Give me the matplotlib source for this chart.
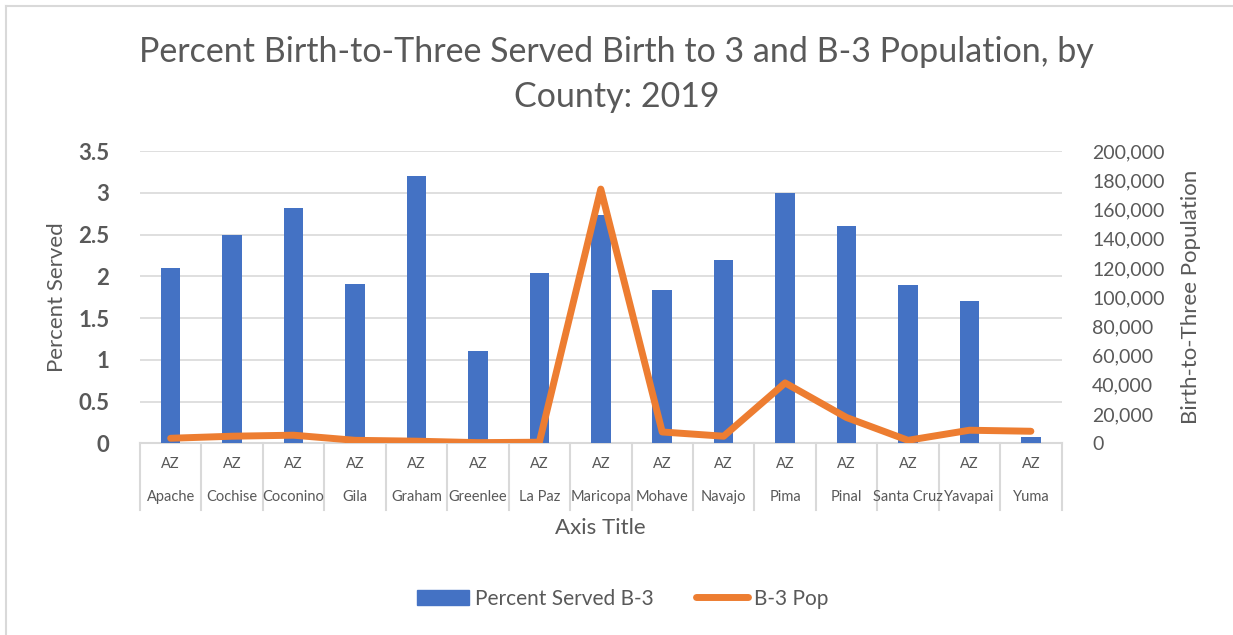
import matplotlib.pyplot as plt
from matplotlib.lines import Line2D
from matplotlib.ticker import FuncFormatter

# county data, 2019
counties = ["Apache", "Cochise", "Coconino", "Gila", "Graham", "Greenlee", "La Paz",
            "Maricopa", "Mohave", "Navajo", "Pima", "Pinal", "Santa Cruz", "Yavapai", "Yuma"]
state = ["AZ"] * len(counties)
pct_served = [2.10, 2.50, 2.82, 1.91, 3.20, 1.10, 2.04, 2.74, 1.84, 2.20, 3.00, 2.60, 1.90, 1.70, 0.08]
b3_pop = [3400, 4800, 5500, 2000, 1400, 400, 700, 174000, 7700, 4800, 41300, 17600, 2000, 8900, 8200]

plt.rcParams['font.family'] = ['Lato', 'DejaVu Sans']
blue = "#4472C4"
orange = "#ED7D31"
grey_txt = "#595959"
grid_col = "#D9D9D9"

fig = plt.figure(figsize=(12.33, 6.35), dpi=100)
ax = fig.add_axes([0.1135, 0.302, 0.7475, 0.46])
x = list(range(len(counties)))

ax.bar(x, pct_served, width=0.32, color=blue, zorder=2)
ax.set_ylim(0, 3.5)
ax.set_yticks([0, 0.5, 1, 1.5, 2, 2.5, 3, 3.5])
ax.set_yticklabels(["0", "0.5", "1", "1.5", "2", "2.5", "3", "3.5"])
ax.set_xlim(-0.5, len(counties) - 0.5)
ax.yaxis.grid(True, color=grid_col, linewidth=1.2, zorder=0)
ax.set_axisbelow(True)
for s in ax.spines.values():
    s.set_visible(False)
ax.tick_params(axis='y', length=0, labelsize=16, labelcolor=grey_txt, pad=22)
for t in ax.get_yticklabels():
    t.set_fontweight('bold')
ax.set_xticks([])
ax.set_ylabel("Percent Served", fontsize=16, color=grey_txt, labelpad=8)

# multi-level category axis
tr = ax.get_xaxis_transform()
ax.plot([-0.5, len(counties) - 0.5], [0, 0], color=grid_col, lw=1.5, transform=tr, clip_on=False, zorder=1)
for i in range(len(counties) + 1):
    ax.plot([i - 0.5, i - 0.5], [0, -0.23], color=grid_col, lw=1.5, transform=tr, clip_on=False)
for i, (st, c) in enumerate(zip(state, counties)):
    ax.text(i, -0.07, st, transform=tr, ha='center', va='center', fontsize=10.5, color=grey_txt)
    ax.text(i, -0.185, c, transform=tr, ha='center', va='center', fontsize=10.5, color=grey_txt)
ax.text(0.5, -0.29, "Axis Title", transform=ax.transAxes, ha='center', va='center',
        fontsize=16, color=grey_txt)

ax2 = ax.twinx()
ax2.plot(x, b3_pop, color=orange, linewidth=5, solid_joinstyle='round', solid_capstyle='round', zorder=3)
ax2.set_ylim(0, 200000)
ax2.set_yticks(range(0, 200001, 20000))
ax2.yaxis.set_major_formatter(FuncFormatter(lambda v, p: f"{int(v):,}"))
ax2.tick_params(axis='y', length=0, labelsize=14, labelcolor=grey_txt, pad=22)
for s in ax2.spines.values():
    s.set_visible(False)
ax2.set_ylabel("Birth-to-Three Population", fontsize=16, color=grey_txt, labelpad=12)

fig.text(0.5, 0.918, "Percent Birth-to-Three Served Birth to 3 and B-3 Population, by",
         ha='center', va='center', fontsize=24.5, color=grey_txt)
fig.text(0.5, 0.848, "County: 2019", ha='center', va='center', fontsize=24.5, color=grey_txt)

handles = [plt.Rectangle((0, 0), 1, 1, color=blue),
           Line2D([0], [0], color=orange, lw=5, solid_capstyle='round')]
fig.legend(handles, ["Percent Served B-3", "B-3 Pop"], loc='center', bbox_to_anchor=(0.505, 0.057),
           ncol=2, frameon=False, fontsize=15, labelcolor=grey_txt, handlelength=2.5,
           handleheight=0.75, columnspacing=2.0, handletextpad=0.3)

# chart border (top and left edges visible)
fig.add_artist(Line2D([6 / 1233, 6 / 1233], [0, 1 - 6 / 635], color=grid_col, lw=1.5, transform=fig.transFigure))
fig.add_artist(Line2D([6 / 1233, 1], [1 - 6 / 635, 1 - 6 / 635], color=grid_col, lw=1.5, transform=fig.transFigure))

fig.savefig("out.png", dpi=100, facecolor='white')
